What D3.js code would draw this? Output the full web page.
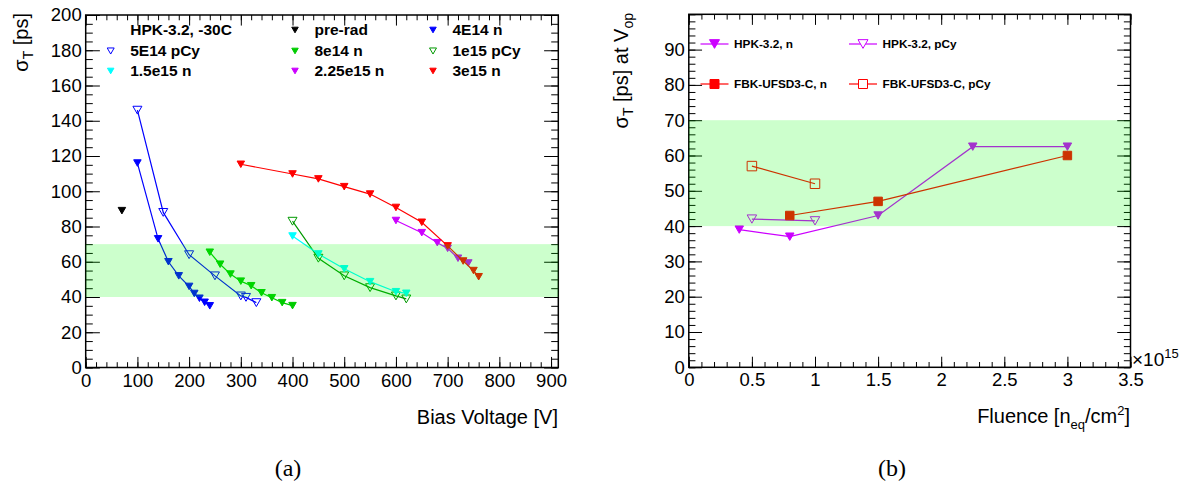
<!DOCTYPE html>
<html>
<head>
<meta charset="utf-8">
<script src="https://cdn.jsdelivr.net/npm/d3@7"></script>
<style>
  body { margin: 0; background: #fff; }
  text { font-family: "Liberation Sans", Arial, Helvetica, sans-serif; }
</style>
</head>
<body>
<div id="chart"></div>
<script>
// ---- panel (a): sigma_T vs bias voltage, HPK-3.2 at -30C ----
const preradV = [70];
const preradT = [89];
const n4e14V = [100, 140, 160, 180, 200, 210, 220, 230, 240];
const n4e14T = [116, 73, 60, 52, 46, 42, 39.3, 37, 35];
const pcy5e14V = [100, 150, 200, 250, 300, 310, 330];
const pcy5e14T = [146, 88, 64, 52, 40.6, 39.8, 36.8];
const n8e14V = [240, 260, 280, 300, 320, 340, 360, 380, 400];
const n8e14T = [65.4, 58.6, 53, 49, 46.4, 42.4, 39.6, 36.8, 35.1];
const pcy1e15V = [400, 450, 500, 550, 600, 620];
const pcy1e15T = [83, 62, 52, 45.3, 40.6, 38.9];
const n15e15V = [400, 450, 500, 550, 600, 620];
const n15e15T = [74.6, 64.4, 56, 48.7, 43, 42.1];
const n225e15V = [600, 650, 680, 700, 720, 740];
const n225e15T = [83.4, 76.5, 70.8, 67.6, 62, 59.3];
const n3e15V = [300, 400, 450, 500, 550, 600, 650, 700, 730, 750, 760];
const n3e15T = [115.3, 109.8, 107, 102.6, 98.4, 90.8, 82.4, 69, 60.4, 55, 51.5];

// ---- panel (b): sigma_T at V_op vs fluence ----
const hpkNF = [0.4, 0.8, 1.5, 2.25, 3];
const hpkNT = [39, 37, 43, 62.5, 62.5];
const hpkPF = [0.5, 1.0];
const hpkPT = [42, 41.5];
const fbkNF = [0.8, 1.5, 3];
const fbkNT = [43, 47, 60];
const fbkPF = [0.5, 1.0];
const fbkPT = [57, 52];

const band = [40, 70];   // target region

const width = 1188;
const height = 486;

const svg = d3.select("#chart")
  .append("svg")
  .attr("width", width)
  .attr("height", height)
  .style("background-color", "#fff");

const zip = (a, b) => a.map((v, i) => [v, b[i]]);

// down-pointing triangle and square centred at 0,0
function tri(w) {
  const h = w * 0.87;
  return `M${-w / 2},${-h / 2}L${w / 2},${-h / 2}L0,${h / 2}Z`;
}
function sq(w) {
  return `M${-w / 2},${-w / 2}h${w}v${w}h${-w}Z`;
}

function markerPath(s, size) {
  return s.shape === "square" ? sq(size) : tri(size);
}

// ROOT-like frame with inner ticks on all sides
function frame(g, x, y, o) {
  const [x0, x1] = x.range();
  const [y0, y1] = y.range();
  const xt = (y0 - y1) * 0.03, yt = (x1 - x0) * 0.03;

  const styleAxis = a => {
    a.select(".domain").remove();
    a.selectAll("line").attr("stroke", "#000").attr("stroke-width", 1);
    a.selectAll("text").attr("font-size", 18.5).attr("fill", "#000")
      .style("font-family", "'Liberation Sans', Arial, sans-serif");
  };

  g.append("g").attr("transform", `translate(0,${y0})`)
    .call(d3.axisBottom(x).tickValues(o.xMinor).tickSize(-xt / 2).tickFormat("")).call(styleAxis);
  g.append("g").attr("transform", `translate(0,${y0})`)
    .call(d3.axisBottom(x).tickValues(o.xMajor).tickSize(-xt).tickPadding(6).tickFormat(o.xFmt)).call(styleAxis);
  g.append("g").attr("transform", `translate(0,${y1})`)
    .call(d3.axisTop(x).tickValues(o.xMinor).tickSize(-xt / 2).tickFormat("")).call(styleAxis);
  g.append("g").attr("transform", `translate(0,${y1})`)
    .call(d3.axisTop(x).tickValues(o.xMajor).tickSize(-xt).tickFormat("")).call(styleAxis);

  g.append("g").attr("transform", `translate(${x0},0)`)
    .call(d3.axisLeft(y).tickValues(o.yMinor).tickSize(-yt / 2).tickFormat("")).call(styleAxis);
  g.append("g").attr("transform", `translate(${x0},0)`)
    .call(d3.axisLeft(y).tickValues(o.yMajor).tickSize(-yt).tickPadding(4).tickFormat(o.yFmt)).call(styleAxis);
  g.append("g").attr("transform", `translate(${x1},0)`)
    .call(d3.axisRight(y).tickValues(o.yMinor).tickSize(-yt / 2).tickFormat("")).call(styleAxis);
  g.append("g").attr("transform", `translate(${x1},0)`)
    .call(d3.axisRight(y).tickValues(o.yMajor).tickSize(-yt).tickFormat("")).call(styleAxis);

  g.append("rect")
    .attr("x", x0).attr("y", y1)
    .attr("width", x1 - x0).attr("height", y0 - y1)
    .attr("fill", "none").attr("stroke", "#000").attr("stroke-width", 1.5);
}

function drawSeries(g, x, y, series, sizes) {
  const line = d3.line().x(d => x(d[0])).y(d => y(d[1]));
  series.forEach(s => {
    const pts = zip(s.x, s.y);
    if (pts.length > 1) {
      g.append("path").datum(pts)
        .attr("d", line)
        .attr("fill", "none")
        .attr("stroke", s.color)
        .attr("stroke-width", 1.2);
    }
    g.selectAll(null).data(pts).enter()
      .append("path")
      .attr("transform", d => `translate(${x(d[0])},${y(d[1])})`)
      .attr("d", markerPath(s, s.open ? sizes.open : sizes.filled))
      .attr("fill", s.open ? "none" : s.color)
      .attr("stroke", s.color)
      .attr("stroke-width", 1);
  });
}

// green band painted translucently over the plot, like the original
function drawBand(g, x, y) {
  const [x0, x1] = x.range();
  g.append("rect")
    .attr("x", x0).attr("width", x1 - x0)
    .attr("y", y(band[1])).attr("height", y(band[0]) - y(band[1]))
    .attr("fill", "rgb(0,255,0)").attr("fill-opacity", 0.2);
}

// ================= panel (a) =================
const xA = d3.scaleLinear().domain([0, 914]).range([85.7, 558.3]);
const yA = d3.scaleLinear().domain([0, 200]).range([367.5, 15]);

const seriesA = [
  { label: "pre-rad", x: preradV, y: preradT, color: "#000000", open: false },
  { label: "4E14 n", x: n4e14V, y: n4e14T, color: "#0000ff", open: false },
  { label: "5E14 pCy", x: pcy5e14V, y: pcy5e14T, color: "#0000ff", open: true },
  { label: "8e14 n", x: n8e14V, y: n8e14T, color: "#00cc00", open: false },
  { label: "1e15 pCy", x: pcy1e15V, y: pcy1e15T, color: "#009900", open: true },
  { label: "1.5e15 n", x: n15e15V, y: n15e15T, color: "#00ffff", open: false },
  { label: "2.25e15 n", x: n225e15V, y: n225e15T, color: "#cc00ff", open: false },
  { label: "3e15 n", x: n3e15V, y: n3e15T, color: "#ff0000", open: false }
];

const gA = svg.append("g");
drawSeries(gA, xA, yA, seriesA, { filled: 7.5, open: 9 });

frame(gA, xA, yA, {
  xMajor: d3.range(0, 901, 100),
  xMinor: d3.range(0, 914, 20),
  yMajor: d3.range(0, 201, 20),
  yMinor: d3.range(0, 201, 5),
  xFmt: d => d,
  yFmt: d => d
});
drawBand(gA, xA, yA);

// legend (a): 3 columns
const legA = [
  { label: "HPK-3.2, -30C" },
  seriesA[0], seriesA[1],
  seriesA[2], seriesA[3], seriesA[4],
  seriesA[5], seriesA[6], seriesA[7]
];
const legColX = [110.7, 295, 433];
const legRowY = [30, 51, 71];
legA.forEach((s, i) => {
  const cx = legColX[i % 3], cy = legRowY[Math.floor(i / 3)];
  if (s.color) {
    gA.append("path")
      .attr("transform", `translate(${cx},${cy})`)
      .attr("d", tri(s.open ? 7 : 6.5))
      .attr("fill", s.open ? "none" : s.color)
      .attr("stroke", s.color);
  }
  gA.append("text")
    .attr("x", cx + 19.5).attr("y", cy + 5.3)
    .attr("font-size", 15.5).attr("font-weight", "bold")
    .text(s.label);
});

// axis titles (a)
gA.append("text")
  .attr("x", 558).attr("y", 424)
  .attr("text-anchor", "end").attr("font-size", 20)
  .text("Bias Voltage [V]");

const ytA = gA.append("text")
  .attr("transform", "translate(28,13) rotate(-90)")
  .attr("text-anchor", "end").attr("font-size", 20);
ytA.append("tspan").text("σ");
ytA.append("tspan").attr("font-size", 14).attr("dy", 5).text("T");
ytA.append("tspan").attr("dy", -5).text(" [ps]");

// ================= panel (b) =================
const xB = d3.scaleLinear().domain([0, 3.5]).range([688.8, 1130.5]);
const yB = d3.scaleLinear().domain([0, 100]).range([367.3, 14.3]);

const seriesB = [
  { label: "HPK-3.2, n", x: hpkNF, y: hpkNT, color: "#cc00ff", open: false, shape: "tri" },
  { label: "HPK-3.2, pCy", x: hpkPF, y: hpkPT, color: "#cc00ff", open: true, shape: "tri" },
  { label: "FBK-UFSD3-C, n", x: fbkNF, y: fbkNT, color: "#ff0000", open: false, shape: "square" },
  { label: "FBK-UFSD3-C, pCy", x: fbkPF, y: fbkPT, color: "#ff0000", open: true, shape: "square" }
];

const gB = svg.append("g");
drawSeries(gB, xB, yB, seriesB, { filled: 8.5, open: 9.5 });

frame(gB, xB, yB, {
  xMajor: d3.range(0, 3.51, 0.5),
  xMinor: d3.range(0, 3.51, 0.1),
  yMajor: d3.range(0, 101, 10),
  yMinor: d3.range(0, 101, 2),
  xFmt: d => String(+d.toFixed(1)),
  yFmt: d => (d === 100 ? "" : d)
});
drawBand(gB, xB, yB);

// legend (b): 2 columns with line + marker
const legBX = [714.5, 863];
const legBY = [44, 84];
seriesB.forEach((s, i) => {
  const cx = legBX[i % 2], cy = legBY[Math.floor(i / 2)];
  gB.append("line")
    .attr("x1", cx - 14).attr("x2", cx + 14)
    .attr("y1", cy).attr("y2", cy)
    .attr("stroke", s.color).attr("stroke-width", 1.2);
  gB.append("path")
    .attr("transform", `translate(${cx},${cy})`)
    .attr("d", markerPath(s, s.shape === "square" ? 9 : 10))
    .attr("fill", s.open ? "#fff" : s.color)
    .attr("stroke", s.color);
  gB.append("text")
    .attr("x", cx + 19.5).attr("y", cy + 4.3)
    .attr("font-size", 11.8).attr("font-weight", "bold")
    .text(s.label);
});

// axis titles (b)
const xtB = gB.append("text")
  .attr("x", 1130).attr("y", 423)
  .attr("text-anchor", "end").attr("font-size", 20);
xtB.append("tspan").text("Fluence [n");
xtB.append("tspan").attr("font-size", 13).attr("dy", 6).text("eq");
xtB.append("tspan").attr("dy", -6).text("/cm");
xtB.append("tspan").attr("font-size", 13).attr("dy", -8).text("2");
xtB.append("tspan").attr("dy", 8).text("]");

const expB = gB.append("text")
  .attr("x", 1132).attr("y", 366)
  .attr("font-size", 19);
expB.append("tspan").text("×10");
expB.append("tspan").attr("font-size", 13).attr("dy", -8).text("15");

const ytB = gB.append("text")
  .attr("transform", "translate(628,13) rotate(-90)")
  .attr("text-anchor", "end").attr("font-size", 20);
ytB.append("tspan").text("σ");
ytB.append("tspan").attr("font-size", 14).attr("dy", 5).text("T");
ytB.append("tspan").attr("dy", -5).text(" [ps] at V");
ytB.append("tspan").attr("font-size", 14).attr("dy", 5).text("op");

// panel captions
svg.append("text")
  .attr("x", 288).attr("y", 476)
  .attr("text-anchor", "middle").attr("font-size", 24)
  .style("font-family", "'Liberation Serif', 'DejaVu Serif', serif")
  .text("(a)");
svg.append("text")
  .attr("x", 892).attr("y", 476)
  .attr("text-anchor", "middle").attr("font-size", 24)
  .style("font-family", "'Liberation Serif', 'DejaVu Serif', serif")
  .text("(b)");
</script>
</body>
</html>
